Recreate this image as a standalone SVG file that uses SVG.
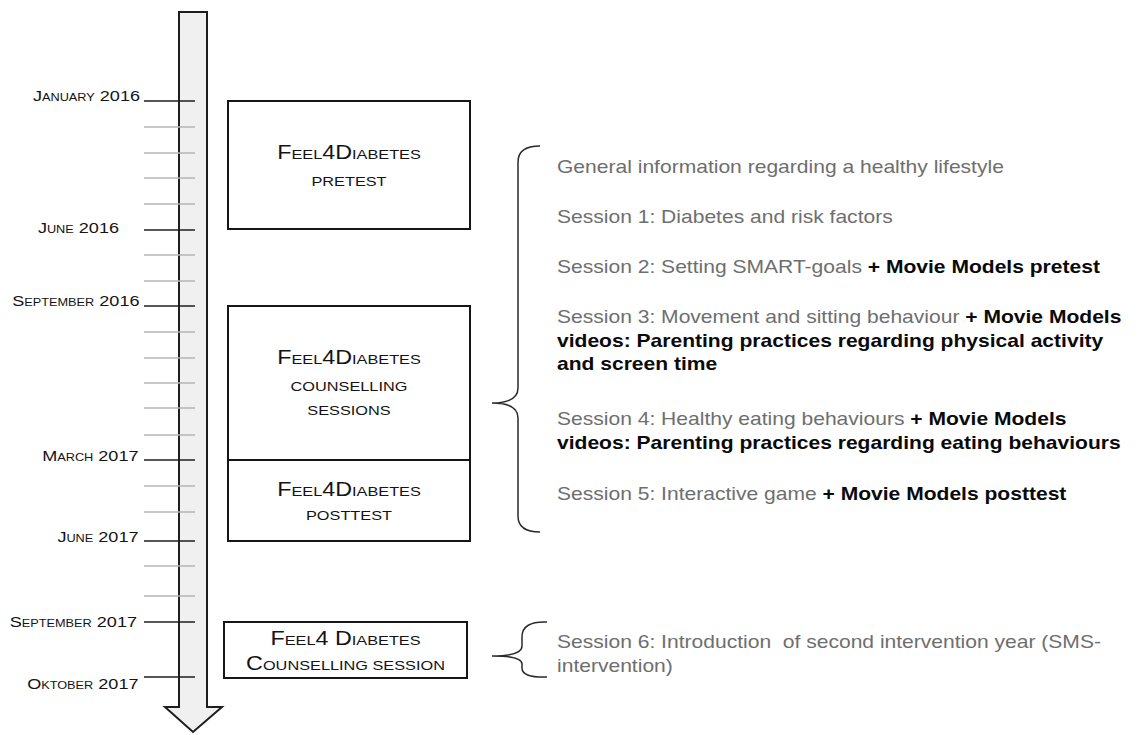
<svg xmlns="http://www.w3.org/2000/svg" width="1141" height="735" viewBox="0 0 1141 735">
<style>
text{font-family:"Liberation Sans",Arial,Helvetica,sans-serif;fill:#141414}
.d{font-size:15.2px;text-anchor:end}
.ds{font-size:10.7px}
.bx{font-size:19.6px;text-anchor:middle}
.bs{font-size:13.7px}
.t{font-size:17.7px;fill:#6e6e6e}
.b{font-weight:bold;fill:#0a0a0a}
.box{fill:#fff;stroke:#161616;stroke-width:2}
.maj{stroke:#1e1e1e;stroke-width:1.6}
.min{stroke:#b4b4b4;stroke-width:1.6}
.br{fill:none;stroke:#2a2a2a;stroke-width:1.5}
</style>
<rect width="1141" height="735" fill="#fff"/>
<g id="timeline">
<path d="M179,12 H207 V707 H222 L193,732 L165,707 H179 Z" fill="#f0f0f0" stroke="#1e1e1e" stroke-width="2" stroke-linejoin="miter"/>
<g id="ticks">
<line class="min" x1="144" y1="127" x2="195" y2="127"/>
<line class="min" x1="144" y1="153" x2="195" y2="153"/>
<line class="min" x1="144" y1="178" x2="195" y2="178"/>
<line class="min" x1="144" y1="204" x2="195" y2="204"/>
<line class="min" x1="144" y1="255" x2="195" y2="255"/>
<line class="min" x1="144" y1="281" x2="195" y2="281"/>
<line class="min" x1="144" y1="332" x2="195" y2="332"/>
<line class="min" x1="144" y1="358" x2="195" y2="358"/>
<line class="min" x1="144" y1="383" x2="195" y2="383"/>
<line class="min" x1="144" y1="408" x2="195" y2="408"/>
<line class="min" x1="144" y1="435" x2="195" y2="435"/>
<line class="min" x1="144" y1="486" x2="195" y2="486"/>
<line class="min" x1="144" y1="512" x2="195" y2="512"/>
<line class="min" x1="144" y1="566" x2="195" y2="566"/>
<line class="min" x1="144" y1="596" x2="195" y2="596"/>
<line class="maj" x1="144" y1="101" x2="195" y2="101"/>
<line class="maj" x1="144" y1="230" x2="195" y2="230"/>
<line class="maj" x1="144" y1="306" x2="195" y2="306"/>
<line class="maj" x1="144" y1="460" x2="195" y2="460"/>
<line class="maj" x1="144" y1="541" x2="195" y2="541"/>
<line class="maj" x1="144" y1="622" x2="195" y2="622"/>
<line class="maj" x1="144" y1="677" x2="195" y2="677"/>
</g>
<g id="dates">
<text class="d" transform="matrix(1.19 0 0 1 140 101)">J<tspan class="ds">ANUARY</tspan> 2016</text>
<text class="d" transform="matrix(1.19 0 0 1 119 233)">J<tspan class="ds">UNE</tspan> 2016</text>
<text class="d" transform="matrix(1.19 0 0 1 139.5 306)">S<tspan class="ds">EPTEMBER</tspan> 2016</text>
<text class="d" transform="matrix(1.19 0 0 1 138.5 461)">M<tspan class="ds">ARCH</tspan> 2017</text>
<text class="d" transform="matrix(1.19 0 0 1 138.5 541.5)">J<tspan class="ds">UNE</tspan> 2017</text>
<text class="d" transform="matrix(1.19 0 0 1 137 627)">S<tspan class="ds">EPTEMBER</tspan> 2017</text>
<text class="d" transform="matrix(1.19 0 0 1 138.5 689)">O<tspan class="ds">KTOBER</tspan> 2017</text>
</g>
</g>
<g id="box-pretest">
<rect class="box" x="228" y="101" width="242" height="128"/>
<text class="bx" transform="matrix(1.19 0 0 1 349 159)">F<tspan class="bs">EEL</tspan>4D<tspan class="bs">IABETES</tspan></text>
<text class="bx" transform="matrix(1.19 0 0 1 349 186)"><tspan class="bs">PRETEST</tspan></text>
</g>
<g id="box-counselling">
<rect class="box" x="228" y="306" width="242" height="154"/>
<text class="bx" transform="matrix(1.19 0 0 1 349 363.5)">F<tspan class="bs">EEL</tspan>4D<tspan class="bs">IABETES</tspan></text>
<text class="bx" transform="matrix(1.19 0 0 1 349 390.5)"><tspan class="bs">COUNSELLING</tspan></text>
<text class="bx" transform="matrix(1.19 0 0 1 349 415)"><tspan class="bs">SESSIONS</tspan></text>
</g>
<g id="box-posttest">
<rect class="box" x="228" y="460" width="242" height="81"/>
<text class="bx" transform="matrix(1.19 0 0 1 349 496)">F<tspan class="bs">EEL</tspan>4D<tspan class="bs">IABETES</tspan></text>
<text class="bx" transform="matrix(1.19 0 0 1 349 520)"><tspan class="bs">POSTTEST</tspan></text>
</g>
<g id="box-session6">
<rect class="box" x="224" y="622" width="243" height="56"/>
<text class="bx" transform="matrix(1.19 0 0 1 345.5 645)">F<tspan class="bs">EEL</tspan>4 D<tspan class="bs">IABETES</tspan></text>
<text class="bx" transform="matrix(1.19 0 0 1 345.5 670)">C<tspan class="bs">OUNSELLING SESSION</tspan></text>
</g>
<g id="connectors">
<path class="br" d="M540,146 Q518,146 518,162 V388 Q518,403 492,403 Q518,403 518,418 V516 Q518,532 540,532"/>
<path class="br" d="M547,622 Q522,621 522,637 V646 Q522,656 492,656 Q522,656 522,664 V668 Q522,678 547,677"/>
</g>
<g id="sessions-list">
<text class="t" transform="matrix(1.19 0 0 1 557 173)">General information regarding a healthy lifestyle</text>
<text class="t" transform="matrix(1.19 0 0 1 557 223)">Session 1: Diabetes and risk factors</text>
<text class="t" transform="matrix(1.19 0 0 1 557 273)">Session 2: Setting SMART-goals <tspan class="b">+ Movie Models pretest</tspan></text>
<text class="t" transform="matrix(1.19 0 0 1 557 323)">Session 3: Movement and sitting behaviour <tspan class="b">+ Movie Models</tspan></text>
<text class="t b" transform="matrix(1.19 0 0 1 557 347)">videos: Parenting practices regarding physical activity</text>
<text class="t b" transform="matrix(1.19 0 0 1 557 370)">and screen time</text>
<text class="t" transform="matrix(1.19 0 0 1 557 425)">Session 4: Healthy eating behaviours <tspan class="b">+ Movie Models</tspan></text>
<text class="t b" transform="matrix(1.19 0 0 1 557 449)">videos: Parenting practices regarding eating behaviours</text>
<text class="t" transform="matrix(1.19 0 0 1 557 500)">Session 5: Interactive game <tspan class="b">+ Movie Models posttest</tspan></text>
</g>
<g id="session6-text">
<text class="t" xml:space="preserve" transform="matrix(1.19 0 0 1 557 648)">Session 6: Introduction  of second intervention year (SMS-</text>
<text class="t" transform="matrix(1.19 0 0 1 557 672)">intervention)</text>
</g>
</svg>
